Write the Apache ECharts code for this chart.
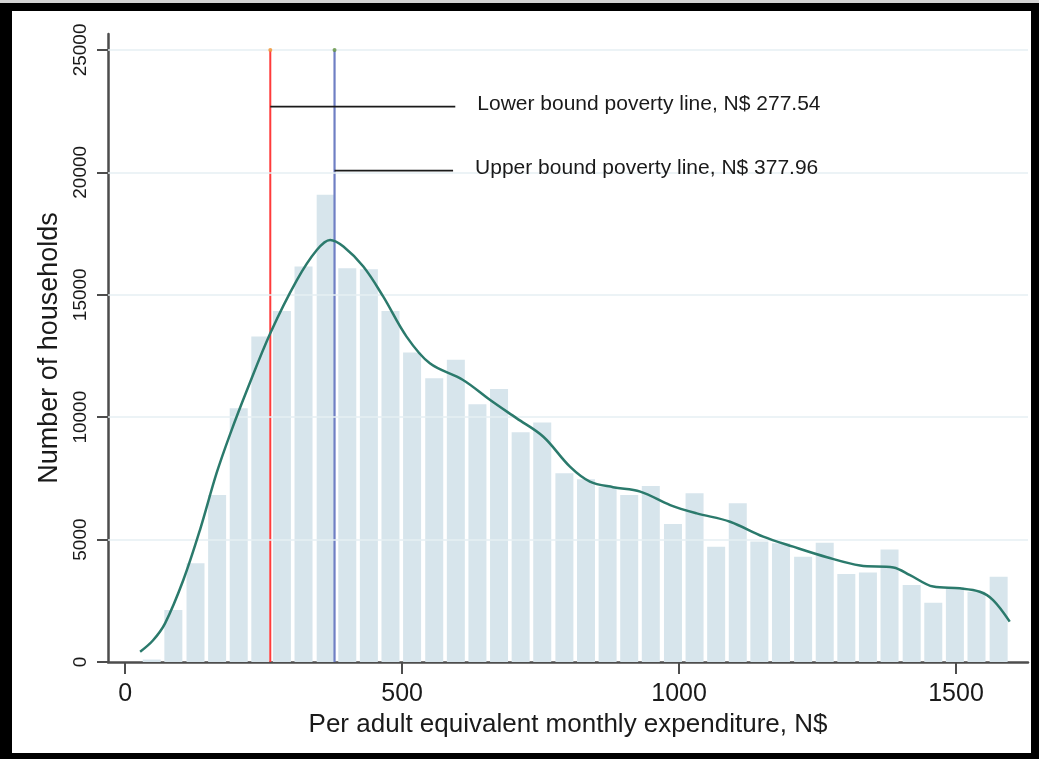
<!DOCTYPE html>
<html>
<head>
<meta charset="utf-8">
<script src="https://cdn.jsdelivr.net/npm/echarts@6/dist/echarts.min.js"></script>
<style>
  html, body { margin: 0; padding: 0; background: #fff; }
  #chart { position: absolute; left: 0; top: 0; width: 1039px; height: 759px; }
  #frame { position: absolute; left: 0; top: 0; width: 1039px; height: 759px; box-sizing: border-box;
           border-left: 12px solid #000; border-top: 11px solid #000; border-right: 8px solid #000; border-bottom: 6px solid #000;
           pointer-events: none; }
  #strip { position: absolute; left: 0; top: 0; width: 1039px; height: 3px; background: #d4d4d4; pointer-events: none; }
</style>
</head>
<body>
<div id="chart"></div>
<div id="frame"></div>
<div id="strip"></div>
<script>
// Histogram bins (bin centres, N$) and household counts
const binCenters = [48, 87, 127, 166, 205, 244, 283, 322, 362, 401, 440, 479, 518, 558, 597, 636, 675, 714, 753, 793,
                    832, 871, 910, 949, 989, 1028, 1067, 1106, 1145, 1184, 1224, 1263, 1302, 1341, 1380, 1420, 1459, 1498, 1537, 1577];
const householdCounts = [100, 2120, 4030, 6820, 10360, 13290, 14340, 16150, 19080, 16080, 16040, 14340, 12640, 11590, 12340, 10530, 11150, 9380, 9780, 7710,
                         7460, 7160, 6820, 7190, 5640, 6890, 4710, 6480, 4920, 4850, 4300, 4870, 3590, 3660, 4600, 3140, 2420, 3050, 2870, 3480];
// Kernel density curve (scaled to counts)
const densityX = [27, 50, 72, 105, 135, 165, 190, 220, 262, 310, 346, 370, 394, 430, 466, 508, 550, 610, 659, 707, 755,
                  803, 839, 881, 930, 984, 1032, 1092, 1152, 1206, 1267, 1327, 1387, 1417, 1459, 1507, 1543, 1567, 1597];
const densityY = [420, 880, 1580, 3350, 5390, 7710, 9340, 11110, 13430, 15600, 16830, 17240, 16970, 16150, 14920, 13290, 12200, 11520, 10700, 9950, 9200,
                  7980, 7370, 7140, 6960, 6410, 6070, 5730, 5120, 4710, 4280, 3940, 3860, 3550, 3080, 3010, 2870, 2530, 1650];
// Poverty lines (drawn positions) and their annotations
const povertyLineX = [262, 378];
const povertyLineTop = 25000;
const annotationY = [22680, 20070];
const annotationEndX = [596, 592];
const annotationText = ['Lower bound poverty line, N$ 277.54', 'Upper bound poverty line, N$ 377.96'];
// Axis ticks
const xTicks = [0, 500, 1000, 1500];
const yTicks = [0, 5000, 10000, 15000, 20000, 25000];
const yGrid = [5000, 10000, 15000, 20000, 25000];

const FONT = "'Liberation Sans', Arial, Helvetica, sans-serif";
const chart = echarts.init(document.getElementById('chart'), null, { renderer: 'canvas' });

const series = [
  {
    type: 'bar',
    data: binCenters.map((c, i) => [c, householdCounts[i]]),
    barWidth: 18,
    itemStyle: { color: '#d7e5ec' },
    silent: true,
    z: 1,
    markLine: {
      silent: true, symbol: ['none', 'none'], label: { show: false },
      lineStyle: { color: '#e6eff3', width: 1.5, type: 'solid' },
      data: yGrid.map(v => ({ yAxis: v }))
    }
  },
  {
    type: 'line',
    data: densityX.map((x, i) => [x, densityY[i]]),
    smooth: 0.35,
    showSymbol: false,
    lineStyle: { color: '#2b7a6c', width: 2.5 },
    silent: true,
    z: 5
  },
  {
    type: 'line',
    data: [[povertyLineX[0], 0], [povertyLineX[0], povertyLineTop]],
    showSymbol: false,
    lineStyle: { color: '#ff3b3b', width: 2 },
    silent: true,
    z: 4
  },
  {
    type: 'line',
    data: [[povertyLineX[1], 0], [povertyLineX[1], povertyLineTop]],
    showSymbol: false,
    lineStyle: { color: '#6f7fc4', width: 2.2 },
    silent: true,
    z: 4
  },
  {
    type: 'scatter',
    data: [[povertyLineX[0], povertyLineTop]],
    symbolSize: 4,
    itemStyle: { color: '#f0902a' },
    silent: true, z: 6
  },
  {
    type: 'scatter',
    data: [[povertyLineX[1], povertyLineTop]],
    symbolSize: 4,
    itemStyle: { color: '#5c8f3c' },
    silent: true, z: 6
  }
];

annotationText.forEach((txt, i) => {
  series.push({
    type: 'line',
    data: [
      [povertyLineX[i], annotationY[i]],
      [annotationEndX[i], annotationY[i]]
    ],
    showSymbol: false,
    symbol: 'none',
    lineStyle: { color: '#1a1a1a', width: 1.8 },
    endLabel: {
      show: true, distance: 22, offset: [0, -2.5],
      formatter: () => txt, fontFamily: FONT, fontSize: 21, color: '#1a1a1a'
    },
    silent: true,
    z: 7
  });
});

chart.setOption({
  animation: false,
  backgroundColor: '#ffffff',
  grid: { left: 108, right: 11, top: 34, bottom: 97, containLabel: false, outerBoundsMode: 'none' },
  xAxis: {
    type: 'value',
    min: -31, max: 1630,
    name: 'Per adult equivalent monthly expenditure, N$',
    nameLocation: 'middle',
    nameGap: 42,
    nameTextStyle: { fontFamily: FONT, fontSize: 26, color: '#1a1a1a' },
    axisLine: { show: true, onZero: false, lineStyle: { color: '#4d4d4d', width: 2.5 } },
    axisTick: { show: true, length: 12, customValues: xTicks, lineStyle: { color: '#4d4d4d', width: 2 } },
    axisLabel: { show: true, customValues: xTicks, formatter: v => String(v), margin: 20, fontFamily: FONT, fontSize: 25, color: '#1a1a1a' },
    splitLine: { show: false }
  },
  yAxis: {
    type: 'value',
    min: 0, max: 25650,
    name: 'Number of households',
    nameLocation: 'middle',
    nameRotate: 90,
    nameGap: 41,
    nameTextStyle: { fontFamily: FONT, fontSize: 27, color: '#1a1a1a' },
    axisLine: { show: true, onZero: false, lineStyle: { color: '#4d4d4d', width: 2.5 } },
    axisTick: { show: true, length: 11, customValues: yTicks, lineStyle: { color: '#4d4d4d', width: 2 } },
    axisLabel: { show: true, customValues: yTicks, formatter: v => String(v), rotate: 90, margin: 18, fontFamily: FONT, fontSize: 19, color: '#1a1a1a' },
    splitLine: { show: false }
  },
  series: series
});
</script>
</body>
</html>
